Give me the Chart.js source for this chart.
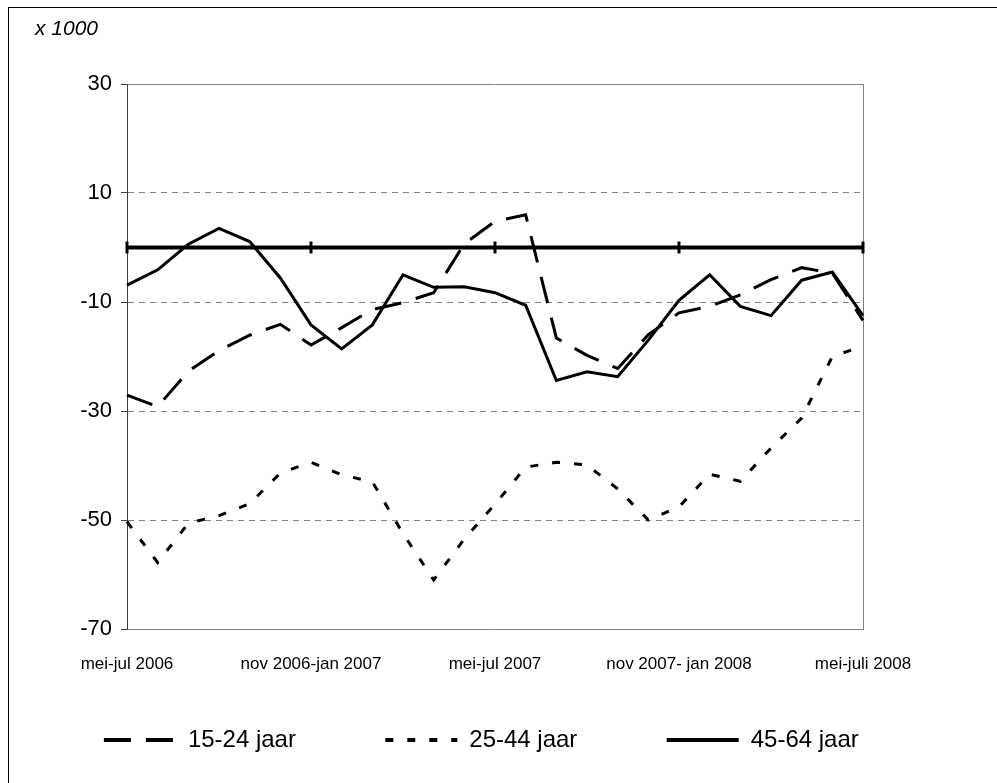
<!DOCTYPE html>
<html>
<head>
<meta charset="utf-8">
<title>Werkloosheid x 1000</title>
<script src="https://cdn.jsdelivr.net/npm/chart.js@4.4.1/dist/chart.umd.min.js"></script>
<style>
  html, body { margin: 0; padding: 0; background: #fff; overflow: hidden; }
  #wrap { position: relative; width: 997px; height: 783px; }
  #frame { position: absolute; left: 8px; top: 7px; width: 1100px; height: 900px;
           border-left: 1px solid #000; border-top: 1px solid #000; pointer-events: none; }
</style>
</head>
<body>
<div id="wrap">
  <canvas id="chart_jaar" width="997" height="783"></canvas>
  <div id="frame"></div>
</div>
<script>
var periods = [
  'mei-jul 2006', 'jun-aug 2006', 'jul-sep 2006', 'aug-okt 2006', 'sep-nov 2006', 'okt-dec 2006',
  'nov 2006-jan 2007', 'dec 2006-feb 2007', 'jan-mrt 2007', 'feb-apr 2007', 'mrt-mei 2007', 'apr-jun 2007',
  'mei-jul 2007', 'jun-aug 2007', 'jul-sep 2007', 'aug-okt 2007', 'sep-nov 2007', 'okt-dec 2007',
  'nov 2007- jan 2008', 'dec 2007-feb 2008', 'jan-mrt 2008', 'feb-apr 2008', 'mrt-mei 2008', 'apr-jun 2008',
  'mei-juli 2008'
];
var tickLabels = ['mei-jul 2006', 'nov 2006-jan 2007', 'mei-jul 2007', 'nov 2007- jan 2008', 'mei-juli 2008'];
var yTicks = { min: -70, max: 30, step: 20 };

var jaar15_24 = [-27.1, -29.2, -22.7, -18.9, -16.1, -14.1, -17.9, -14.7, -11.4, -10.1, -8.3, 0.7, 4.8,
                 6.0, -16.6, -19.8, -22.2, -16.0, -12.0, -10.8, -8.7, -5.9, -3.7, -4.7, -13.4];
var jaar25_44 = [-50.3, -57.8, -50.6, -49.2, -47.0, -41.4, -39.4, -41.7, -43.0, -52.5, -61.0, -53.5, -47.1,
                 -40.3, -39.4, -39.9, -44.3, -50.0, -47.6, -41.6, -42.9, -36.8, -31.3, -20.0, -18.1];
var jaar45_64 = [-6.9, -4.1, 0.6, 3.5, 1.1, -5.6, -14.2, -18.6, -14.2, -5.0, -7.3, -7.2, -8.3,
                 -10.6, -24.4, -22.8, -23.7, -17.0, -9.7, -5.0, -10.8, -12.5, -6.0, -4.5, -12.5];

// thick zero line with the category tick marks on it
var zeroLine = {
  id: 'zeroLine',
  beforeDatasetsDraw: function (chart) {
    var ctx = chart.ctx, x = chart.scales.x, y = chart.scales.y, area = chart.chartArea;
    var y0 = y.getPixelForValue(0);
    ctx.save();
    ctx.strokeStyle = '#000';
    ctx.lineWidth = 4;
    ctx.beginPath();
    ctx.moveTo(area.left, y0);
    ctx.lineTo(area.right, y0);
    ctx.stroke();
    ctx.lineWidth = 3;
    periods.forEach(function (p, i) {
      if (tickLabels.indexOf(p) < 0) return;
      var px = x.getPixelForValue(i);
      ctx.beginPath();
      ctx.moveTo(px, y0 - 6);
      ctx.lineTo(px, y0 + 6);
      ctx.stroke();
    });
    ctx.restore();
  }
};

Chart.defaults.font.family = "'Liberation Sans', Arial, sans-serif";
Chart.defaults.color = '#000';

var ctx = document.getElementById('chart_jaar').getContext('2d');
var chart = new Chart(ctx, {
  type: 'line',
  data: {
    labels: periods,
    datasets: [{
      label: '15-24 jaar',
      data: jaar15_24,
      borderColor: '#000',
      backgroundColor: '#000',
      borderWidth: 3,
      borderDash: [27, 15],
      pointRadius: 0,
      fill: false
    }, {
      label: '25-44 jaar',
      data: jaar25_44,
      borderColor: '#000',
      backgroundColor: '#000',
      borderWidth: 3,
      borderDash: [8, 14],
      pointRadius: 0,
      fill: false
    }, {
      label: '45-64 jaar',
      data: jaar45_64,
      borderColor: '#000',
      backgroundColor: '#000',
      borderWidth: 3,
      pointRadius: 0,
      fill: false
    }]
  },
  options: {
    responsive: false,
    animation: false,
    layout: { padding: { left: 35, right: 36, top: 0, bottom: 21 } },
    scales: {
      x: {
        grid: { display: false },
        border: { color: '#808080', width: 1 },
        ticks: {
          autoSkip: false, maxRotation: 0, minRotation: 0, padding: 17,
          font: { size: 17 },
          callback: function (v) {
            var l = this.getLabelForValue(v);
            return tickLabels.indexOf(l) >= 0 ? l : '';
          }
        },
        afterFit: function (s) { s.height = 43; }
      },
      y: {
        min: yTicks.min,
        max: yTicks.max,
        ticks: { stepSize: yTicks.step, padding: 9, font: { size: 22 } },
        grid: { color: '#808080', tickColor: '#404040', tickLength: 6, lineWidth: 1 },
        border: {
          color: '#404040', width: 1,
          dash: function (c) {
            var v = c.tick ? c.tick.value : null;
            return (v === yTicks.max || v === yTicks.min) ? [] : [6, 5];
          }
        },
        afterFit: function (s) { s.width = 92; }
      },
      y2: {
        position: 'right',
        grid: { display: false },
        ticks: { display: false },
        border: { display: true, color: '#808080', width: 1 },
        afterFit: function (s) { s.width = 98; }
      }
    },
    plugins: {
      title: {
        display: true,
        text: 'x 1000',
        align: 'start',
        font: { size: 21, style: 'italic', weight: 'normal' },
        padding: { top: 17, bottom: 41.8 }
      },
      legend: {
        position: 'bottom',
        labels: {
          usePointStyle: true,
          pointStyle: 'line',
          pointStyleWidth: 72,
          padding: 56,
          font: { size: 24 },
          generateLabels: function (chart) {
            return Chart.defaults.plugins.legend.labels.generateLabels(chart).map(function (item) {
              var ds = chart.data.datasets[item.datasetIndex];
              item.text = item.text + '\u00a0\u00a0\u00a0\u00a0\u00a0';
              item.lineDash = ds.borderDash || [];
              item.lineWidth = 4;
              return item;
            });
          }
        }
      },
      tooltip: { enabled: false }
    }
  },
  plugins: [zeroLine]
});
</script>
</body>
</html>
